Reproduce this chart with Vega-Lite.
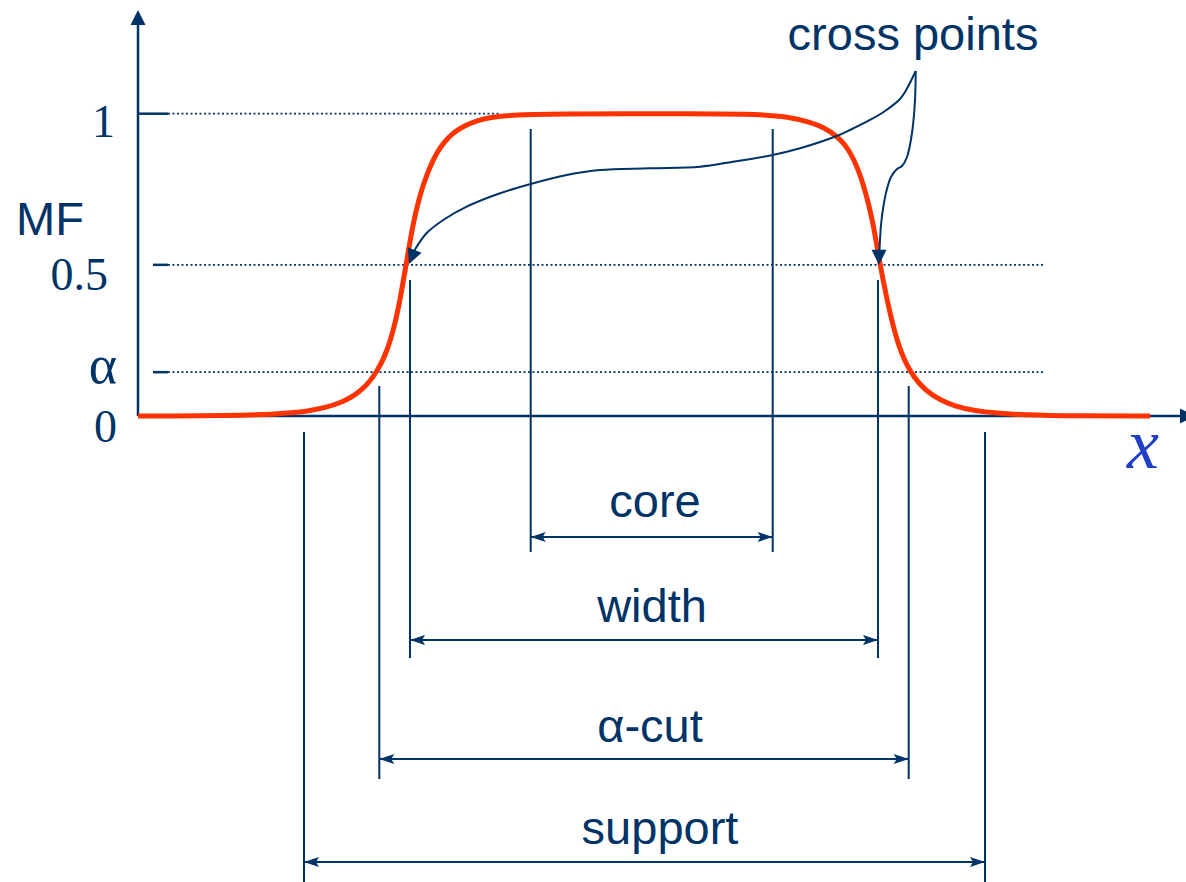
{
  "$schema": "https://vega.github.io/schema/vega-lite/v6.json",
  "width": 1186,
  "height": 882,
  "autosize": {"type": "none"},
  "padding": 0,
  "background": "white",
  "config": {"view": {"stroke": null}},
  "datasets": {
    "curve": [
      {"x": 0, "y": 0}, {"x": 122, "y": 0.002}, {"x": 172, "y": 0.014}, {"x": 205, "y": 0.043},
      {"x": 225, "y": 0.086}, {"x": 239, "y": 0.145}, {"x": 250, "y": 0.218}, {"x": 260, "y": 0.341},
      {"x": 268, "y": 0.5}, {"x": 272, "y": 0.579}, {"x": 276, "y": 0.648}, {"x": 280, "y": 0.705},
      {"x": 285, "y": 0.763}, {"x": 292, "y": 0.826}, {"x": 299, "y": 0.872}, {"x": 306, "y": 0.906},
      {"x": 315, "y": 0.936}, {"x": 325, "y": 0.958}, {"x": 339, "y": 0.978}, {"x": 355, "y": 0.989},
      {"x": 372, "y": 0.995}, {"x": 412, "y": 0.9995},
      {"x": 562, "y": 1}, {"x": 622, "y": 0.998}, {"x": 650, "y": 0.99}, {"x": 672, "y": 0.972},
      {"x": 686, "y": 0.955}, {"x": 699, "y": 0.925}, {"x": 707, "y": 0.898},
      {"x": 715, "y": 0.857}, {"x": 725, "y": 0.775}, {"x": 735, "y": 0.645}, {"x": 742, "y": 0.5},
      {"x": 749, "y": 0.384}, {"x": 759, "y": 0.241}, {"x": 772, "y": 0.142}, {"x": 789, "y": 0.076},
      {"x": 815, "y": 0.03}, {"x": 855, "y": 0.007}, {"x": 922, "y": 0}, {"x": 1012, "y": 0}
    ],
    "axes": [
      {"x": 0, "x2": 0, "y": 0, "y2": 1.3},
      {"x": 0, "x2": 1044, "y": 0, "y2": 0}
    ],
    "ticks": [
      {"x": 0, "x2": 30, "y": 1},
      {"x": 15, "x2": 30, "y": 0.5},
      {"x": 15, "x2": 30, "y": 0.145}
    ],
    "guides": [
      {"x": 30, "x2": 362, "y": 1},
      {"x": 30, "x2": 905, "y": 0.5},
      {"x": 30, "x2": 905, "y": 0.145}
    ],
    "vlines": [
      {"x": 392.7, "y": 0.9494, "y2": -0.4499},
      {"x": 634.7, "y": 0.9494, "y2": -0.4499},
      {"x": 272, "y": 0.4499, "y2": -0.8005},
      {"x": 740, "y": 0.4499, "y2": -0.8005},
      {"x": 241.3, "y": 0.0992, "y2": -1.2008},
      {"x": 770.7, "y": 0.0992, "y2": -1.2008},
      {"x": 166, "y": -0.0529, "y2": -1.5415},
      {"x": 847, "y": -0.0529, "y2": -1.5415}
    ],
    "shafts": [
      {"x": 392.7, "x2": 634.7, "y": -0.4003},
      {"x": 272, "x2": 740, "y": -0.741},
      {"x": 241.3, "x2": 770.7, "y": -1.1346},
      {"x": 166, "x2": 847, "y": -1.4754}
    ],
    "heads": [
      {"x": 0, "y": 1.3431, "dir": "up"},
      {"x": 1057, "y": 0, "dir": "right"},
      {"x": 741, "y": 0.5, "dir": "down"},
      {"x": 271, "y": 0.503, "dir": "downleft"},
      {"x": 392.7, "y": -0.4003, "dir": "sleft"},
      {"x": 272, "y": -0.741, "dir": "sleft"},
      {"x": 241.3, "y": -1.1346, "dir": "sleft"},
      {"x": 166, "y": -1.4754, "dir": "sleft"},
      {"x": 634.7, "y": -0.4003, "dir": "sright"},
      {"x": 740, "y": -0.741, "dir": "sright"},
      {"x": 770.7, "y": -1.1346, "dir": "sright"},
      {"x": 847, "y": -1.4754, "dir": "sright"}
    ],
    "cross": [
      {"side": "L", "i": 0, "x": 777.7, "y": 1.1413},
      {"side": "L", "i": 1, "x": 768.7, "y": 1.0817},
      {"side": "L", "i": 2, "x": 762, "y": 1.0486},
      {"side": "L", "i": 3, "x": 747, "y": 1.0089},
      {"side": "L", "i": 4, "x": 732, "y": 0.9792},
      {"side": "L", "i": 5, "x": 712, "y": 0.9461},
      {"side": "L", "i": 6, "x": 698.7, "y": 0.9262},
      {"side": "L", "i": 7, "x": 662, "y": 0.8856},
      {"side": "L", "i": 8, "x": 634.7, "y": 0.8634},
      {"side": "L", "i": 9, "x": 595, "y": 0.8412},
      {"side": "L", "i": 10, "x": 562, "y": 0.8247},
      {"side": "L", "i": 11, "x": 512, "y": 0.8194},
      {"side": "L", "i": 12, "x": 462, "y": 0.8138},
      {"side": "L", "i": 13, "x": 428.7, "y": 0.7972},
      {"side": "L", "i": 14, "x": 392.7, "y": 0.7675},
      {"side": "L", "i": 15, "x": 362, "y": 0.7367},
      {"side": "L", "i": 16, "x": 328.7, "y": 0.6924},
      {"side": "L", "i": 17, "x": 305.3, "y": 0.6484},
      {"side": "L", "i": 18, "x": 288.7, "y": 0.6054},
      {"side": "L", "i": 19, "x": 278.7, "y": 0.56},
      {"side": "L", "i": 20, "x": 276, "y": 0.545},
      {"side": "R", "i": 0, "x": 777.7, "y": 1.1413},
      {"side": "R", "i": 1, "x": 777, "y": 1.0453},
      {"side": "R", "i": 2, "x": 774, "y": 0.9362},
      {"side": "R", "i": 3, "x": 769, "y": 0.8568},
      {"side": "R", "i": 4, "x": 764, "y": 0.827},
      {"side": "R", "i": 5, "x": 759, "y": 0.8171},
      {"side": "R", "i": 6, "x": 753, "y": 0.7906},
      {"side": "R", "i": 7, "x": 748.7, "y": 0.7476},
      {"side": "R", "i": 8, "x": 745.3, "y": 0.6914},
      {"side": "R", "i": 9, "x": 743, "y": 0.6318},
      {"side": "R", "i": 10, "x": 742, "y": 0.5822},
      {"side": "R", "i": 11, "x": 741.5, "y": 0.5491}
    ],
    "sansLabels": [
      {"x": 775, "y": 1.2107, "text": "cross points"},
      {"x": 517, "y": -0.3331, "text": "core"},
      {"x": 514, "y": -0.6814, "text": "width"},
      {"x": 512, "y": -1.0784, "text": "α-cut"},
      {"x": 522, "y": -1.4158, "text": "support"},
      {"x": -88, "y": 0.5987, "text": "MF"}
    ],
    "serifLabels": [
      {"x": -23, "y": 0.9229, "text": "1"},
      {"x": -30, "y": 0.4168, "text": "0.5"},
      {"x": -21, "y": -0.085, "text": "0"}
    ],
    "alphaLabel": [
      {"x": -21, "y": 0.1092, "text": "α"}
    ],
    "varLabel": [
      {"x": 1005, "y": -0.172, "text": "x"}
    ]
  },
  "encoding": {
    "x": {"field": "x", "type": "quantitative", "scale": {"domain": [-138, 1048], "nice": false, "zero": false}, "axis": null},
    "y": {"field": "y", "type": "quantitative", "scale": {"domain": [-1.5415, 1.3761], "nice": false, "zero": false}, "axis": null}
  },
  "layer": [
    {
      "data": {"name": "guides"},
      "mark": {"type": "rule", "color": "#003366", "strokeWidth": 1.8, "strokeDash": [2, 2.5]},
      "encoding": {"x2": {"field": "x2"}}
    },
    {
      "data": {"name": "axes"},
      "mark": {"type": "rule", "color": "#003366", "strokeWidth": 2.5},
      "encoding": {"x2": {"field": "x2"}, "y2": {"field": "y2"}}
    },
    {
      "data": {"name": "ticks"},
      "mark": {"type": "rule", "color": "#003366", "strokeWidth": 2.5},
      "encoding": {"x2": {"field": "x2"}}
    },
    {
      "data": {"name": "vlines"},
      "mark": {"type": "rule", "color": "#003366", "strokeWidth": 2},
      "encoding": {"y2": {"field": "y2"}}
    },
    {
      "data": {"name": "shafts"},
      "mark": {"type": "rule", "color": "#003366", "strokeWidth": 2},
      "encoding": {"x2": {"field": "x2"}}
    },
    {
      "data": {"name": "curve"},
      "mark": {"type": "line", "color": "#FF3300", "strokeWidth": 5, "interpolate": "basis"},
      "encoding": {}
    },
    {
      "data": {"name": "cross"},
      "mark": {"type": "line", "color": "#003366", "strokeWidth": 2, "interpolate": "catmull-rom"},
      "encoding": {"order": {"field": "i", "type": "quantitative"}, "detail": {"field": "side", "type": "nominal"}}
    },
    {
      "data": {"name": "heads"},
      "transform": [{"filter": "datum.dir === 'up'"}],
      "mark": {"type": "point", "shape": "M0,0L-1,2L1,2Z", "filled": true, "size": 225, "color": "#003366", "opacity": 1, "strokeWidth": 0}
    },
    {
      "data": {"name": "heads"},
      "transform": [{"filter": "datum.dir === 'right'"}],
      "mark": {"type": "point", "shape": "M0,0L-2,-1L-2,1Z", "filled": true, "size": 225, "color": "#003366", "opacity": 1, "strokeWidth": 0}
    },
    {
      "data": {"name": "heads"},
      "transform": [{"filter": "datum.dir === 'down'"}],
      "mark": {"type": "point", "shape": "M0,0L-1,-2L1,-2Z", "filled": true, "size": 225, "color": "#003366", "opacity": 1, "strokeWidth": 0}
    },
    {
      "data": {"name": "heads"},
      "transform": [{"filter": "datum.dir === 'downleft'"}],
      "mark": {"type": "point", "shape": "M0,0L-1,-2L1,-2Z", "angle": 22, "filled": true, "size": 225, "color": "#003366", "opacity": 1, "strokeWidth": 0}
    },
    {
      "data": {"name": "heads"},
      "transform": [{"filter": "datum.dir === 'sleft'"}],
      "mark": {"type": "point", "shape": "M0,0L2,-0.67L1.6,0L2,0.67Z", "filled": true, "size": 225, "color": "#003366", "opacity": 1, "strokeWidth": 0}
    },
    {
      "data": {"name": "heads"},
      "transform": [{"filter": "datum.dir === 'sright'"}],
      "mark": {"type": "point", "shape": "M0,0L-2,-0.67L-1.6,0L-2,0.67Z", "filled": true, "size": 225, "color": "#003366", "opacity": 1, "strokeWidth": 0}
    },
    {
      "data": {"name": "sansLabels"},
      "mark": {"type": "text", "font": "Liberation Sans", "fontSize": 47, "color": "#003366", "align": "center", "baseline": "alphabetic"},
      "encoding": {"text": {"field": "text"}}
    },
    {
      "data": {"name": "serifLabels"},
      "mark": {"type": "text", "font": "Liberation Serif", "fontSize": 46, "color": "#003366", "align": "right", "baseline": "alphabetic"},
      "encoding": {"text": {"field": "text"}}
    },
    {
      "data": {"name": "alphaLabel"},
      "mark": {"type": "text", "font": "Liberation Serif", "fontSize": 54, "color": "#003366", "align": "right", "baseline": "alphabetic"},
      "encoding": {"text": {"field": "text"}}
    },
    {
      "data": {"name": "varLabel"},
      "mark": {"type": "text", "font": "Liberation Serif", "fontStyle": "italic", "fontSize": 72, "color": "#1f3fc9", "align": "center", "baseline": "alphabetic"},
      "encoding": {"text": {"field": "text"}}
    }
  ]
}
